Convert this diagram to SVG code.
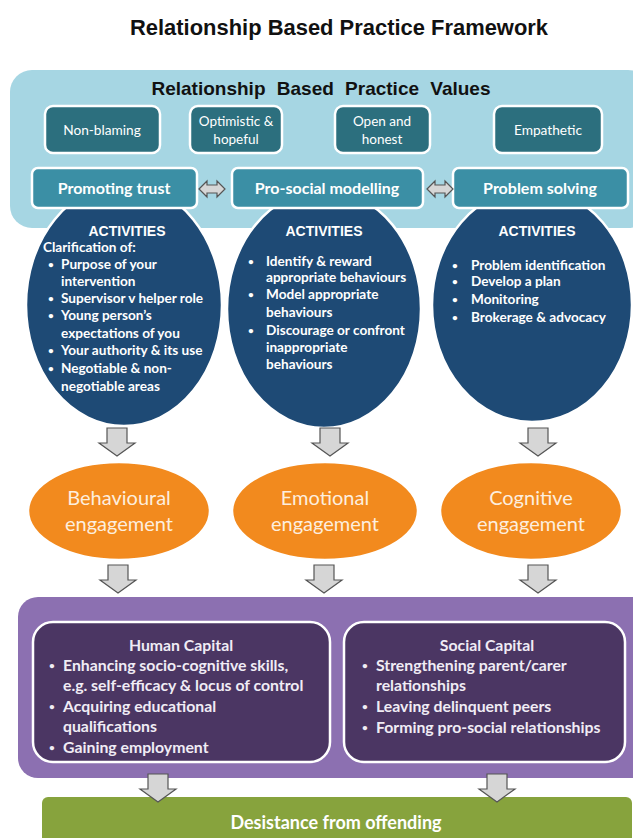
<svg xmlns="http://www.w3.org/2000/svg" width="633" height="838" viewBox="0 0 633 838">
<defs>
<style>
.title{font-family:"Liberation Sans",Arial,sans-serif;font-weight:bold;fill:#111;}
.lb{font-family:Lato,"Open Sans",sans-serif;fill:#fff;}
.val{fill:#2c6f7e;stroke:#fff;stroke-width:2.5;}
.act{fill:#3b8fa5;stroke:#fff;stroke-width:2.5;}
.ell{fill:#1e4a75;stroke:#fff;stroke-width:2.5;}
.org{fill:#f28a1e;stroke:#fff;stroke-width:2.5;}
.cap{fill:#4b3663;stroke:#fff;stroke-width:2.5;}
.arr{fill:#d6d6d6;stroke:#555;stroke-width:1.2;}
.bt{font-family:Lato,"Open Sans",sans-serif;font-weight:bold;fill:#fff;font-size:13.6px;}
.ct{font-family:Lato,"Open Sans",sans-serif;font-weight:bold;fill:#f0ecf5;font-size:15.8px;}
.et{font-family:Lato,"Open Sans",sans-serif;fill:#fdeede;font-size:20px;text-anchor:middle;}
.at{font-family:"Liberation Sans",Arial,sans-serif;font-weight:bold;fill:#fff;font-size:14px;text-anchor:middle;}
.bu{font-size:10px;}
</style>
<path id="dn" d="M-10,0 H10 V15 H18 L0,28 L-18,15 H-10 Z"/>
</defs>
<rect width="633" height="838" fill="#fff"/>
<text class="title" x="339" y="35" font-size="21.5" text-anchor="middle" textLength="418" lengthAdjust="spacingAndGlyphs">Relationship Based Practice Framework</text>

<g id="values-panel">
<rect x="10" y="70" width="640" height="158" rx="22" fill="#a6d6e3"/>
<text class="title" x="321" y="95" font-size="19" text-anchor="middle" word-spacing="6">Relationship Based Practice Values</text>
</g>

<g id="ellipse-trust"><ellipse class="ell" cx="124" cy="305" rx="98" ry="121"/></g>
<g id="ellipse-prosocial"><ellipse class="ell" cx="324" cy="309" rx="97" ry="119"/></g>
<g id="ellipse-problem"><ellipse class="ell" cx="532" cy="305" rx="100" ry="117"/></g>

<g id="v-nonblaming"><rect class="val" x="45" y="106" width="115" height="47" rx="8"/><text class="lb" x="102" y="135" font-size="13.7" text-anchor="middle">Non-blaming</text></g>
<g id="v-optimistic"><rect class="val" x="190" y="106" width="92" height="47" rx="8"/><text class="lb" x="236" y="126" font-size="13.5" text-anchor="middle">Optimistic &amp;</text><text class="lb" x="236" y="144" font-size="13.5" text-anchor="middle">hopeful</text></g>
<g id="v-open"><rect class="val" x="335" y="106" width="95" height="47" rx="8"/><text class="lb" x="382" y="126" font-size="13.5" text-anchor="middle">Open and</text><text class="lb" x="382" y="144" font-size="13.5" text-anchor="middle">honest</text></g>
<g id="v-empathetic"><rect class="val" x="494" y="106" width="108" height="47" rx="8"/><text class="lb" x="548" y="135" font-size="13.7" text-anchor="middle">Empathetic</text></g>

<g id="promoting-trust"><rect class="act" x="32" y="168" width="165" height="40" rx="6"/><text class="lb" x="114" y="194" font-size="16" font-weight="bold" text-anchor="middle">Promoting trust</text></g>
<g id="pro-social"><rect class="act" x="232" y="168" width="191" height="40" rx="6"/><text class="lb" x="327" y="194" font-size="16" font-weight="bold" text-anchor="middle">Pro-social modelling</text></g>
<g id="problem-solving"><rect class="act" x="453" y="168" width="175" height="40" rx="6"/><text class="lb" x="540" y="194" font-size="16" font-weight="bold" text-anchor="middle">Problem solving</text></g>

<g id="act-trust-text">
<text class="at" x="127" y="236">ACTIVITIES</text>
<g class="bt">
<text x="43" y="252">Clarification of:</text>
<text class="bu" x="48" y="268">•</text><text x="61" y="269">Purpose of your</text>
<text x="61" y="286">intervention</text>
<text class="bu" x="48" y="302">•</text><text x="61" y="303">Supervisor v helper role</text>
<text class="bu" x="48" y="319">•</text><text x="61" y="320">Young person’s</text>
<text x="61" y="338">expectations of you</text>
<text class="bu" x="48" y="354">•</text><text x="61" y="355">Your authority &amp; its use</text>
<text class="bu" x="48" y="372">•</text><text x="61" y="373">Negotiable &amp; non-</text>
<text x="61" y="391">negotiable areas</text>
</g>
</g>
<g id="act-prosocial-text">
<text class="at" x="324" y="236">ACTIVITIES</text>
<g class="bt">
<text class="bu" x="248" y="265">•</text><text x="266" y="266">Identify &amp; reward</text>
<text x="266" y="282">appropriate behaviours</text>
<text class="bu" x="248" y="298">•</text><text x="266" y="299">Model appropriate</text>
<text x="266" y="317">behaviours</text>
<text class="bu" x="248" y="334">•</text><text x="266" y="335">Discourage or confront</text>
<text x="266" y="352">inappropriate</text>
<text x="266" y="369">behaviours</text>
</g>
</g>
<g id="act-problem-text">
<text class="at" x="537" y="236">ACTIVITIES</text>
<g class="bt">
<text class="bu" x="452" y="269">•</text><text x="471" y="270">Problem identification</text>
<text class="bu" x="452" y="285">•</text><text x="471" y="286">Develop a plan</text>
<text class="bu" x="452" y="303">•</text><text x="471" y="304">Monitoring</text>
<text class="bu" x="452" y="321">•</text><text x="471" y="322">Brokerage &amp; advocacy</text>
</g>
</g>

<g id="eng-behavioural"><ellipse class="org" cx="119" cy="511" rx="91" ry="49"/><text class="et" x="119" y="505">Behavioural</text><text class="et" x="119" y="531">engagement</text></g>
<g id="eng-emotional"><ellipse class="org" cx="325" cy="511" rx="93" ry="49"/><text class="et" x="325" y="505">Emotional</text><text class="et" x="325" y="531">engagement</text></g>
<g id="eng-cognitive"><ellipse class="org" cx="531" cy="511" rx="91" ry="49"/><text class="et" x="531" y="505">Cognitive</text><text class="et" x="531" y="531">engagement</text></g>

<g id="capital-panel"><rect x="18" y="597" width="640" height="181" rx="20" fill="#8c70b1"/></g>
<g id="human-capital">
<rect class="cap" x="33" y="622" width="297" height="140" rx="20"/>
<text class="ct" x="181" y="651" text-anchor="middle">Human Capital</text>
<text class="ct bu" x="49" y="669">•</text><text class="ct" x="63" y="671">Enhancing socio-cognitive skills,</text>
<text class="ct" x="63" y="691">e.g. self-efficacy &amp; locus of control</text>
<text class="ct bu" x="49" y="710">•</text><text class="ct" x="63" y="712">Acquiring educational</text>
<text class="ct" x="63" y="732">qualifications</text>
<text class="ct bu" x="49" y="751">•</text><text class="ct" x="63" y="753">Gaining employment</text>
</g>
<g id="social-capital">
<rect class="cap" x="344" y="622" width="281" height="140" rx="20"/>
<text class="ct" x="487" y="651" text-anchor="middle">Social Capital</text>
<text class="ct bu" x="362" y="669">•</text><text class="ct" x="376" y="671">Strengthening parent/carer</text>
<text class="ct" x="376" y="691">relationships</text>
<text class="ct bu" x="362" y="710">•</text><text class="ct" x="376" y="712">Leaving delinquent peers</text>
<text class="ct bu" x="362" y="731">•</text><text class="ct" x="376" y="733">Forming pro-social relationships</text>
</g>

<g id="desistance"><rect x="42" y="797" width="590" height="48" rx="6" fill="#87a33d"/><text class="lb" x="336" y="829" font-size="18" font-weight="bold" text-anchor="middle">Desistance from offending</text></g>

<g id="connectors">
<path class="arr" d="M199,189 L207,181 V185 H217 V181 L225,189 L217,197 V193 H207 V197 Z"/>
<path class="arr" d="M427,189 L435,181 V185 H445 V181 L453,189 L445,197 V193 H435 V197 Z"/>
<use href="#dn" class="arr" x="117" y="428"/>
<use href="#dn" class="arr" x="330" y="428"/>
<use href="#dn" class="arr" x="538" y="428"/>
<use href="#dn" class="arr" x="118" y="565"/>
<use href="#dn" class="arr" x="324" y="565"/>
<use href="#dn" class="arr" x="538" y="565"/>
<use href="#dn" class="arr" x="158" y="774"/>
<use href="#dn" class="arr" x="497" y="774"/>
</g>
</svg>
